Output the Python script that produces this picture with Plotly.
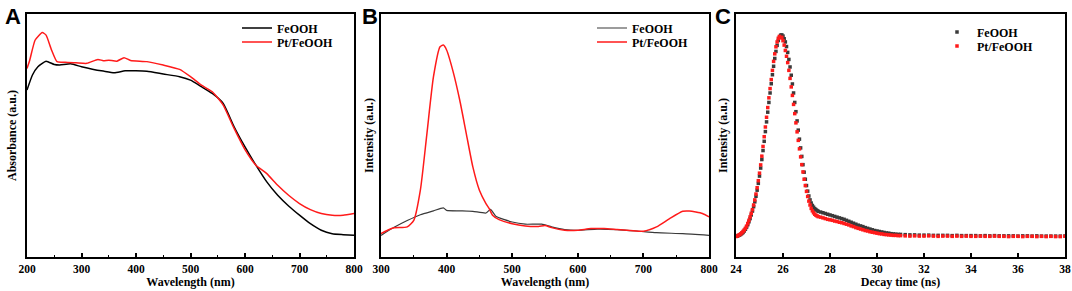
import plotly.graph_objects as go

# ---------------- Panel A: UV-vis absorbance ----------------
a_wl_fe = [200, 210, 220, 235, 250, 260, 280, 300, 320, 340, 360, 380, 400, 420, 450, 480,
           500, 520, 540, 560, 580, 600, 620, 640, 660, 680, 700, 720, 740, 760, 780, 800]
a_fe = [68.7, 74.9, 78.3, 80.6, 79.2, 79.0, 79.5, 78.3, 77.3, 76.5, 75.8, 76.6, 76.6, 76.4, 75.3, 74.2,
        72.8, 70.1, 67.3, 63.2, 53.6, 45.3, 37.8, 30.9, 25.4, 21.0, 17.2, 13.7, 11.0, 9.6, 9.2, 8.9]
a_wl_pt = [200, 205, 215, 228, 235, 245, 255, 270, 290, 310, 330, 340, 350, 365, 378, 390, 420, 450,
           480, 500, 520, 540, 560, 580, 600, 620, 640, 660, 680, 700, 720, 740, 760, 780, 800]
a_pt = [77.6, 81.0, 89.3, 92.4, 91.3, 85.2, 80.4, 80.1, 79.9, 79.7, 81.3, 80.8, 81.0, 80.6, 82.0, 80.9, 80.4, 79.0,
        77.2, 74.2, 70.7, 68.0, 62.5, 52.9, 44.2, 37.8, 34.3, 29.5, 25.4, 22.0, 19.5, 17.9, 17.2, 17.2, 17.9]

# ---------------- Panel B: PL spectra ----------------
b_wl_fe = [300, 320, 340, 360, 380, 395, 400, 420, 440, 460, 467, 475, 500, 520, 545, 560, 580, 600,
           630, 660, 690, 720, 760, 800]
b_fe = [8.9, 12.2, 15.0, 17.4, 19.0, 20.2, 19.2, 19.0, 18.8, 18.1, 19.6, 16.8, 14.4, 13.5, 13.5, 12.4,
        11.3, 11.0, 11.5, 11.3, 10.7, 10.0, 9.6, 8.9]
b_wl_pt = [300, 310, 320, 340, 350, 360, 370, 380, 390, 395, 400, 410, 420, 430, 440, 450, 460, 465,
           470, 480, 500, 520, 540, 550, 560, 580, 600, 620, 640, 660, 680, 700, 720, 740, 760, 770,
           780, 790, 800]
b_pt = [9.6, 11.0, 12.0, 12.4, 15.1, 27.5, 50.8, 74.2, 86.5, 87.2, 85.2, 76.2, 64.6, 50.8, 37.1, 27.5,
        22.0, 19.9, 17.2, 15.4, 13.7, 12.8, 12.6, 13.0, 12.1, 11.0, 11.0, 11.7, 11.7, 11.3, 10.9, 10.6,
        12.4, 15.8, 18.8, 18.9, 18.5, 17.9, 16.5]

# ---------------- Panel C: TRPL decay ----------------
c_t = ([round(24.0 + 0.05 * i, 2) for i in range(71)]
       + [round(27.6 + 0.1 * i, 2) for i in range(35)]
       + [round(31.2 + 0.2 * i, 2) for i in range(35)])
c_fe = [8.5, 8.6, 8.8, 9.0, 9.3, 9.7, 10.1, 10.7, 11.4, 12.3, 13.3, 14.5, 15.8, 17.3, 18.9, 20.7,
        22.7, 25.0, 27.5, 30.3, 33.3, 36.6, 40.1, 43.8, 47.6, 51.6, 55.6, 59.6, 63.6, 67.5, 71.3,
        75.0, 78.5, 81.7, 84.6, 87.1, 89.1, 90.5, 91.3, 91.4, 90.9, 89.8, 88.5, 86.6, 84.2, 81.3,
        78.2, 74.8, 71.2, 67.5, 63.6, 59.8, 56.0, 52.2, 48.5, 44.9, 41.4, 38.0, 34.9, 32.0, 29.4,
        27.1, 25.1, 23.5, 22.2, 21.2, 20.5, 19.9, 19.5, 19.1, 18.8,
        18.5, 18.2, 17.9, 17.6, 17.3, 17.0, 16.7, 16.4, 16.1, 15.8, 15.5, 15.1, 14.7, 14.3, 13.9,
        13.5, 13.1, 12.8, 12.5, 12.1, 11.8, 11.5, 11.2, 10.9, 10.7, 10.5, 10.3, 10.1, 9.9, 9.8,
        9.6, 9.5, 9.4, 9.3, 9.3,
        9.2, 9.1, 9.1, 9.0, 9.0, 9.0, 8.9, 8.9, 8.9, 8.9, 8.8, 8.9, 8.8, 8.8, 8.8, 8.8, 8.7, 8.8,
        8.7, 8.8, 8.7, 8.7, 8.7, 8.7, 8.6, 8.7, 8.7, 8.6, 8.7, 8.6, 8.6, 8.6, 8.6, 8.6, 8.6]
c_pt = [8.4, 8.6, 8.9, 9.2, 9.5, 10.0, 10.5, 11.1, 11.8, 12.7, 13.8, 15.1, 16.5, 18.0, 19.5, 21.4,
        23.5, 25.9, 28.5, 31.4, 34.5, 37.9, 41.5, 45.5, 49.5, 53.5, 57.5, 61.5, 65.5, 69.3, 73.0,
        76.8, 80.5, 83.6, 86.5, 88.5, 90.0, 90.8, 90.2, 90.4, 89.0, 87.2, 85.0, 82.6, 80.0, 76.8,
        73.5, 70.0, 66.5, 62.8, 59.0, 55.2, 51.5, 48.0, 44.5, 41.2, 38.0, 35.0, 32.0, 29.4, 27.0,
        24.9, 23.0, 21.4, 20.0, 19.0, 18.2, 17.6, 17.2, 16.9, 16.6,
        16.4, 16.1, 15.8, 15.5, 15.3, 15.1, 14.8, 14.6, 14.3, 14.1, 13.8, 13.5, 13.2, 12.8, 12.5,
        12.1, 11.8, 11.5, 11.2, 10.9, 10.7, 10.4, 10.2, 10.0, 9.8, 9.6, 9.5, 9.3, 9.2, 9.1,
        9.0, 8.9, 8.9, 8.8, 8.8,
        8.7, 8.6, 8.7, 8.6, 8.6, 8.7, 8.6, 8.5, 8.6, 8.6, 8.5, 8.6, 8.5, 8.6, 8.5, 8.5, 8.6, 8.5,
        8.5, 8.6, 8.5, 8.5, 8.4, 8.5, 8.5, 8.4, 8.5, 8.5, 8.4, 8.5, 8.4, 8.5, 8.4, 8.4, 8.5]

series_names = ["FeOOH", "Pt/FeOOH"]
panel_letters = ["A", "B", "C"]

W, H = 1072, 291
SERIF = "Liberation Serif"
RED = "#ff1a1a"

def px_x(p):
    return p / W

def px_y(p):
    return (H - p) / H

ydom = [px_y(257), px_y(14)]
xdoms = [[px_x(27), px_x(354)], [px_x(381), px_x(709)], [px_x(736), px_x(1065)]]

fig = go.Figure()
fig.add_trace(go.Scatter(x=a_wl_fe, y=a_fe, mode="lines", name=series_names[0], legend="legend",
                         line=dict(color="#000000", width=1.5, shape="spline", smoothing=0.5),
                         xaxis="x", yaxis="y"))
fig.add_trace(go.Scatter(x=a_wl_pt, y=a_pt, mode="lines", name=series_names[1], legend="legend2",
                         line=dict(color=RED, width=1.5, shape="spline", smoothing=0.5),
                         xaxis="x", yaxis="y"))
fig.add_trace(go.Scatter(x=b_wl_fe, y=b_fe, mode="lines", name=series_names[0], legend="legend3",
                         line=dict(color="#3a3a3a", width=1.2, shape="spline", smoothing=0.5),
                         xaxis="x2", yaxis="y2"))
fig.add_trace(go.Scatter(x=b_wl_pt, y=b_pt, mode="lines", name=series_names[1], legend="legend4",
                         line=dict(color=RED, width=1.5, shape="spline", smoothing=0.6),
                         xaxis="x2", yaxis="y2"))
fig.add_trace(go.Scatter(x=c_t, y=c_fe, mode="markers", name=series_names[0], legend="legend5",
                         marker=dict(color="#3a3a3a", size=3.5, symbol="square"),
                         xaxis="x3", yaxis="y3"))
fig.add_trace(go.Scatter(x=c_t, y=c_pt, mode="markers", name=series_names[1], legend="legend6",
                         marker=dict(color=RED, size=3.5, symbol="square"),
                         xaxis="x3", yaxis="y3"))

tickfont = dict(family=SERIF, size=11.5, color="#000000", weight="bold")
titlefont = dict(family=SERIF, size=12, color="#000000", weight="bold")

def xaxis(dom, rng, dtick, minor_dtick, title, anchor):
    ax = dict(domain=dom, range=rng, anchor=anchor, dtick=dtick, tick0=rng[0],
              showline=True, linecolor="#000000", linewidth=2, mirror=True,
              ticks="inside", ticklen=4, tickwidth=1.5, tickcolor="#000000",
              showgrid=False, zeroline=False, tickfont=tickfont,
              title=dict(text=title, font=titlefont, standoff=3), automargin=False)
    if minor_dtick:
        ax["minor"] = dict(dtick=minor_dtick, ticks="inside", ticklen=2, tickwidth=1.2,
                           tickcolor="#000000", showgrid=False)
    return ax

def yaxis(title, anchor, standoff):
    return dict(domain=ydom, range=[0, 100], anchor=anchor, showline=True, linecolor="#000000",
                linewidth=2, mirror=True, ticks="", showticklabels=False, showgrid=False,
                zeroline=False, title=dict(text=title, font=titlefont, standoff=standoff),
                automargin=False)

leg_common = dict(bgcolor="rgba(0,0,0,0)", borderwidth=0, itemwidth=30, xanchor="left",
                  yanchor="middle", font=dict(family=SERIF, size=12, color="#000000", weight="bold"))

fig.update_layout(
    width=W, height=H, margin=dict(l=0, r=0, t=0, b=0),
    paper_bgcolor="white", plot_bgcolor="white", showlegend=True,
    xaxis=xaxis(xdoms[0], [200, 800], 100, 50, "Wavelength (nm)", "y"),
    yaxis=yaxis("Absorbance (a.u.)", "x", 6),
    xaxis2=xaxis(xdoms[1], [300, 800], 100, 50, "Wavelength (nm)", "y2"),
    yaxis2=yaxis("Intensity (a.u.)", "x2", 3),
    xaxis3=xaxis(xdoms[2], [24, 38], 2, None, "Decay time (ns)", "y3"),
    yaxis3=yaxis("Intensity (a.u.)", "x3", 4),
    legend=dict(leg_common, x=px_x(237), y=px_y(28)),
    legend2=dict(leg_common, x=px_x(237), y=px_y(42)),
    legend3=dict(leg_common, x=px_x(592), y=px_y(28)),
    legend4=dict(leg_common, x=px_x(592), y=px_y(42)),
    legend5=dict(leg_common, x=px_x(937), y=px_y(32)),
    legend6=dict(leg_common, x=px_x(937), y=px_y(46)),
)

letter_x = [3, 360, 713]
for letter, lx in zip(panel_letters, letter_x):
    fig.add_annotation(text=letter, xref="paper", yref="paper", x=px_x(lx), y=px_y(2),
                       xanchor="left", yanchor="top", showarrow=False,
                       font=dict(family="Liberation Sans", size=22, color="#000000", weight="bold"))

fig.write_html("out.html", config={"displayModeBar": False},
               post_script="document.body.style.margin='0';document.body.style.padding='0';")
